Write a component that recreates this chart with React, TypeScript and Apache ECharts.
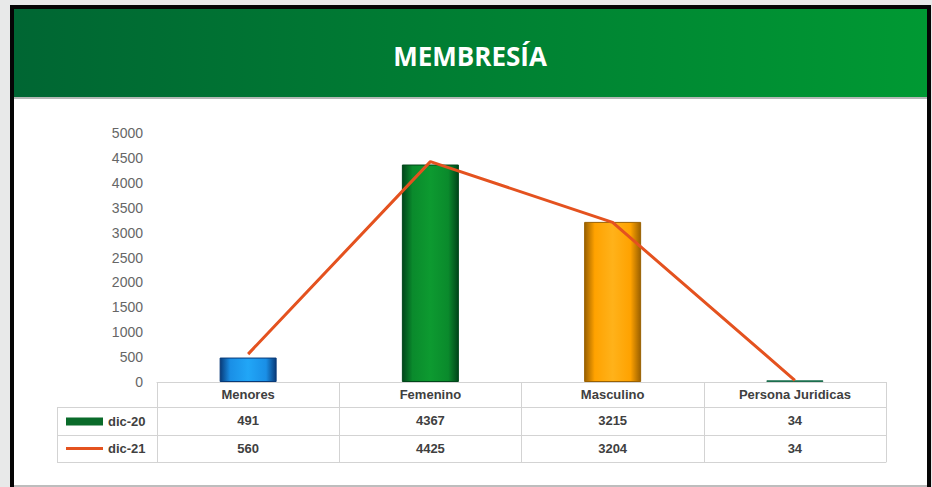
import React, { useEffect, useRef } from "react";
import * as echarts from "echarts";

const categories = ["Menores", "Femenino", "Masculino", "Persona Juridicas"];
const dic20 = [491, 4367, 3215, 34];
const dic21 = [560, 4425, 3204, 34];
const seriesNames = ["dic-20", "dic-21"];
const titleText = "MEMBRESÍA";

const barColors = [
  ["#083a78", "#1a8fe6", "#21a6f7"],
  ["#00461a", "#0a8a2c", "#0d9a30"],
  ["#9a6000", "#ffa200", "#ffb21a"],
  ["#1d6e4f", "#2a9a6a", "#33aa77"],
];

const grad = (c: string[]) => ({
  type: "linear",
  x: 0,
  y: 0,
  x2: 1,
  y2: 0,
  colorStops: [
    { offset: 0, color: c[0] },
    { offset: 0.18, color: c[1] },
    { offset: 0.5, color: c[2] },
    { offset: 0.82, color: c[1] },
    { offset: 1, color: c[0] },
  ],
});

export default function App() {
  const ref = useRef<HTMLDivElement>(null);
  useEffect(() => {
    const chart = echarts.init(ref.current!, null, { renderer: "svg" });
    const tableLine = "#d3d3d3";
    const labelFont = {
      fontFamily: "Liberation Sans",
      fontSize: 13,
      fontWeight: "bold",
      color: "#404040",
    };
    chart.setOption({
      animation: false,
      backgroundColor: "#ffffff",
      graphic: [
        { type: "rect", shape: { x: 0, y: 0, width: 932, height: 5 }, style: { fill: "#e8e9e9" } },
        { type: "rect", shape: { x: 0, y: 0, width: 10, height: 487 }, style: { fill: "#e8e9e9" } },
        { type: "rect", shape: { x: 931, y: 0, width: 1, height: 487 }, style: { fill: "#e8e9e9" } },
        { type: "rect", shape: { x: 10, y: 5, width: 921, height: 4 }, style: { fill: "#050505" } },
        { type: "rect", shape: { x: 10, y: 5, width: 4, height: 482 }, style: { fill: "#050505" } },
        { type: "rect", shape: { x: 927, y: 5, width: 4, height: 482 }, style: { fill: "#050505" } },
        {
          type: "rect",
          shape: { x: 14, y: 9, width: 913, height: 88 },
          style: {
            fill: {
              type: "linear",
              x: 0,
              y: 0,
              x2: 1,
              y2: 0,
              colorStops: [
                { offset: 0, color: "#006633" },
                { offset: 1, color: "#009933" },
              ],
            },
          },
        },
        { type: "rect", shape: { x: 14, y: 97, width: 913, height: 2 }, style: { fill: "#b4b8b6" } },
        { type: "rect", shape: { x: 14, y: 485, width: 913, height: 2 }, style: { fill: "#bdbdbd" } },
        {
          type: "text",
          x: 470,
          y: 56,
          style: {
            text: titleText,
            fill: "#ffffff",
            font: 'bold 26px "Open Sans"',
            textAlign: "center",
            textVerticalAlign: "middle",
          },
        },
        { type: "line", shape: { x1: 57, y1: 407.5, x2: 157, y2: 407.5 }, style: { stroke: tableLine, lineWidth: 1 } },
        { type: "line", shape: { x1: 57, y1: 435.5, x2: 157, y2: 435.5 }, style: { stroke: tableLine, lineWidth: 1 } },
        { type: "line", shape: { x1: 57, y1: 462.5, x2: 157, y2: 462.5 }, style: { stroke: tableLine, lineWidth: 1 } },
        { type: "line", shape: { x1: 57.5, y1: 407, x2: 57.5, y2: 463 }, style: { stroke: tableLine, lineWidth: 1 } },
      ],
      legend: [
        {
          data: [seriesNames[0]],
          left: 61,
          top: 410,
          icon: "rect",
          itemWidth: 37,
          itemHeight: 8,
          textStyle: labelFont,
          selectedMode: false,
        },
        {
          data: [seriesNames[1]],
          left: 61,
          top: 437,
          icon: "rect",
          itemWidth: 37,
          itemHeight: 3,
          textStyle: labelFont,
          selectedMode: false,
        },
      ],
      grid: { left: 157, right: 46, top: 133, bottom: 105 },
      xAxis: [
        {
          type: "category",
          data: categories,
          position: "bottom",
          axisLine: { lineStyle: { color: tableLine, width: 1 } },
          axisTick: { show: true, length: 80, interval: 0, lineStyle: { color: tableLine } },
          axisLabel: { ...labelFont, margin: 6, interval: 0 },
        },
        {
          type: "category",
          data: dic20.map(String),
          position: "bottom",
          offset: 25,
          axisLine: { lineStyle: { color: tableLine, width: 1 } },
          axisTick: { show: false },
          axisLabel: { ...labelFont, margin: 7, interval: 0 },
        },
        {
          type: "category",
          data: dic21.map(String),
          position: "bottom",
          offset: 53,
          axisLine: { lineStyle: { color: tableLine, width: 1 } },
          axisTick: { show: false },
          axisLabel: { ...labelFont, margin: 7, interval: 0 },
        },
        {
          type: "category",
          data: categories.map(() => ""),
          position: "bottom",
          offset: 80,
          axisLine: { lineStyle: { color: tableLine, width: 1 } },
          axisTick: { show: false },
          axisLabel: { show: false },
        },
      ],
      yAxis: {
        type: "value",
        min: 0,
        max: 5000,
        interval: 500,
        axisLine: { show: false },
        axisTick: { show: false },
        splitLine: { show: false },
        axisLabel: {
          fontFamily: "Liberation Sans",
          fontSize: 14,
          color: "#666666",
          margin: 14,
          formatter: (v: number) => String(v),
        },
      },
      series: [
        {
          name: seriesNames[0],
          type: "bar",
          xAxisIndex: 0,
          barWidth: 57,
          itemStyle: { color: "#0a6b2a" },
          data: dic20.map((v, i) => ({
            value: v,
            itemStyle: {
              color: grad(barColors[i]),
              borderColor: barColors[i][0],
              borderWidth: 1,
            },
          })),
        },
        {
          name: seriesNames[1],
          type: "line",
          xAxisIndex: 0,
          data: dic21,
          showSymbol: false,
          symbol: "none",
          z: 5,
          itemStyle: { color: "#e4521f" },
          lineStyle: { color: "#e4521f", width: 3 },
        },
      ],
    });
    return () => chart.dispose();
  }, []);
  return (
    <div
      ref={ref}
      style={{ position: "fixed", left: 0, top: 0, width: 932, height: 487 }}
    />
  );
}
